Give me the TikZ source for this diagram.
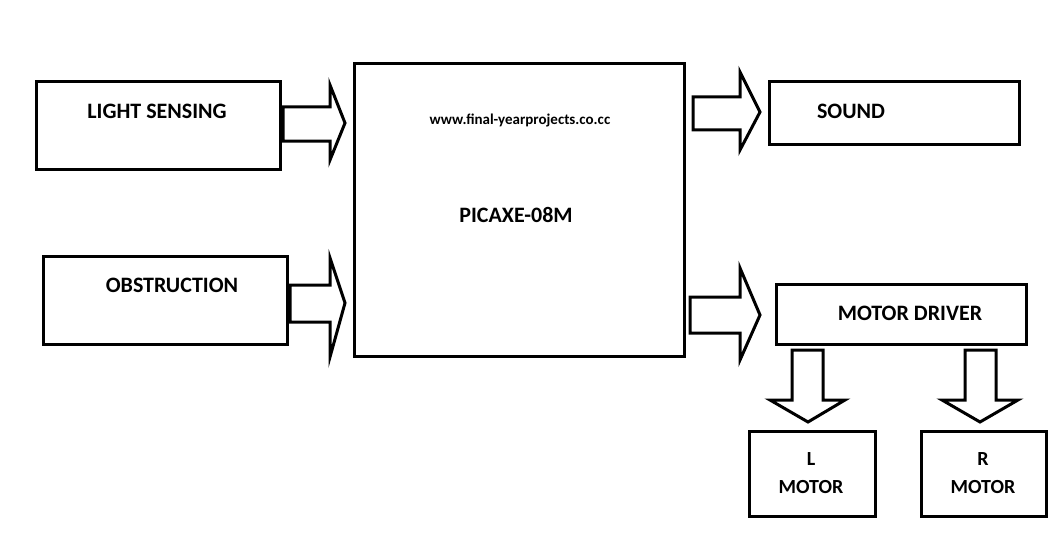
\documentclass[tikz,border=0pt]{standalone}
\usepackage{fontspec}
\setmainfont{Carlito}
\usetikzlibrary{positioning}

\begin{document}
\begin{tikzpicture}[x=1pt,y=-1pt,line width=3pt,
  blok/.style={draw,black,rectangle,anchor=north west,inner sep=0pt},
  txt/.style={font=\fontsize{22}{26}\selectfont\bfseries}]

%Cadre
\useasboundingbox (0,0) rectangle (1054,559);

%Blocs
\node[blok,minimum width=244,minimum height=88] (light) at (35,80) {};
\node[blok,minimum width=244,minimum height=88] (obst) at (42,255) {};
\node[blok,minimum width=330,minimum height=293] (pic) at (353,62) {};
\node[blok,minimum width=250,minimum height=63] (sound) at (768,80) {};
\node[blok,minimum width=250,minimum height=60] (driver) at (775,283) {};
\node[blok,minimum width=126,minimum height=85] (lmot) at (748,430) {};
\node[blok,minimum width=125,minimum height=85] (rmot) at (920,430) {};

%Textes
\node[txt] at (157,111) {LIGHT SENSING};
\node[txt] at (172,285) {OBSTRUCTION};
\node[font=\fontsize{15}{18}\selectfont\bfseries] at (520,120) {www.final-yearprojects.co.cc};
\node[txt] at (516,215) {PICAXE-08M};
\node[txt] at (851,111) {SOUND};
\node[txt] at (910,313) {MOTOR DRIVER};
\node[txt,font=\fontsize{20}{24}\selectfont\bfseries,align=center] at (811,473) {L\\[4pt]MOTOR};
\node[txt,font=\fontsize{20}{24}\selectfont\bfseries,align=center] at (983,473) {R\\[4pt]MOTOR};

%Flèches vers la droite
\draw (283,107) -- (330,107) -- (330,85) -- (345,123) -- (330,160) -- (330,141) -- (283,141) -- cycle;
\draw (290,285) -- (330,285) -- (330,258) -- (345,303) -- (330,357) -- (330,322) -- (290,322) -- cycle;
\draw (693,97) -- (740,97) -- (740,72) -- (760,112) -- (740,150) -- (740,130) -- (693,130) -- cycle;
\draw (690,297) -- (740,297) -- (740,268) -- (760,315) -- (740,360) -- (740,333) -- (690,333) -- cycle;

%Flèches vers le bas
\draw (792,350) -- (792,400) -- (770,400) -- (808,422) -- (845,400) -- (823,400) -- (823,350) -- cycle;
\draw (965,350) -- (965,400) -- (942,400) -- (980,422) -- (1018,400) -- (996,400) -- (996,350) -- cycle;

\end{tikzpicture}
\end{document}
